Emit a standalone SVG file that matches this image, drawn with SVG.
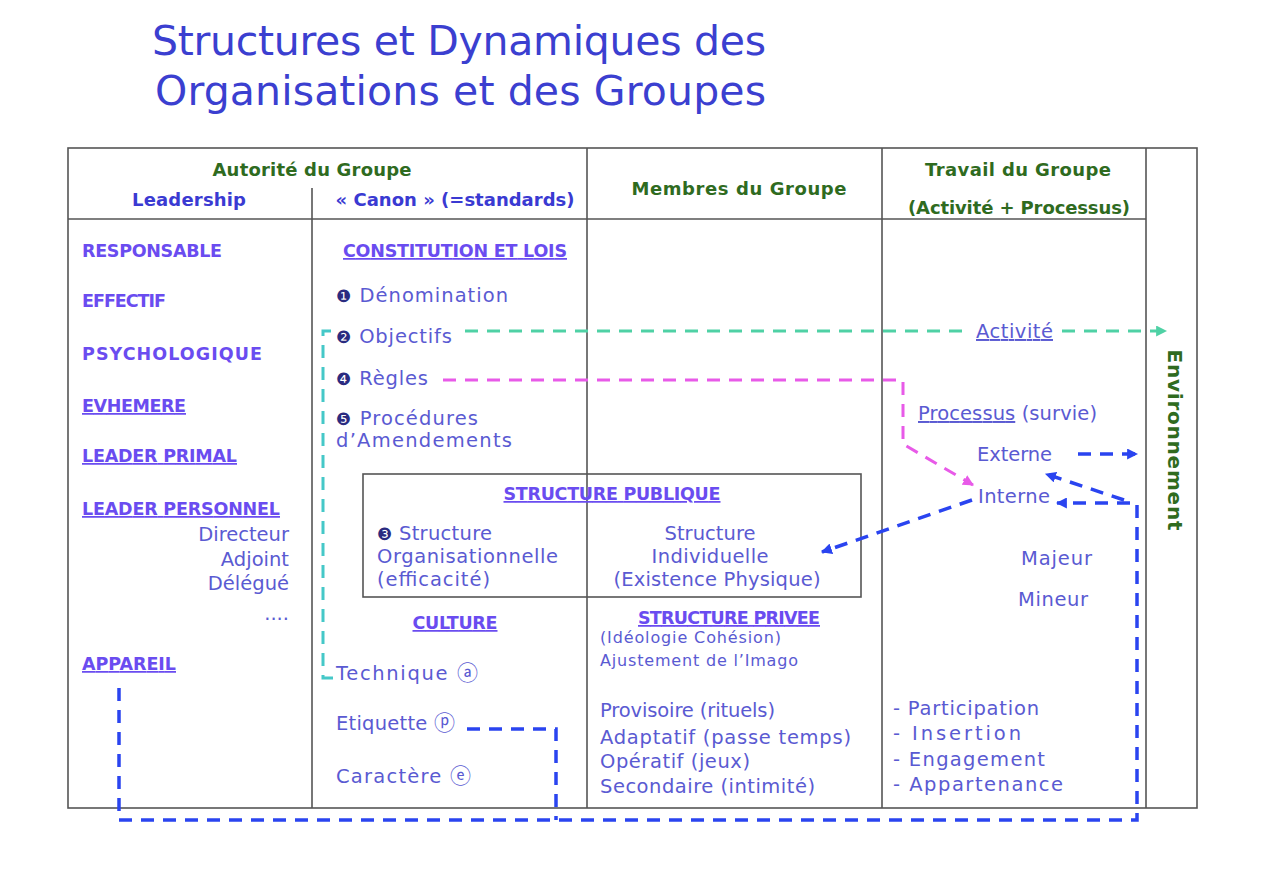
<svg xmlns="http://www.w3.org/2000/svg" width="1270" height="886" viewBox="0 0 1270 886">
<style>
text{font-family:"DejaVu Sans","Noto Sans CJK JP",sans-serif}
.title{font-size:41px;fill:#3b3fd0}
.hg{font-size:18px;font-weight:bold;fill:#2f6b1f}
.hb{font-size:18px;font-weight:bold;fill:#3a3ad2}
.lab{font-size:17.5px;font-weight:bold;fill:#6a4cf0}
.u{text-decoration:underline}
.body{font-size:19.5px;fill:#5a5ad2}
.small{font-size:16px;fill:#5a5ad2}
.num{font-size:17px;fill:#2b2b80}
.circ{font-size:21px}
.grid{stroke:#555;stroke-width:1.6;fill:none}
.teal{stroke:#4fd1a5;stroke-width:3;fill:none;stroke-dasharray:13 9}
.cyan{stroke:#45c8c8;stroke-width:3;fill:none;stroke-dasharray:13 9}
.mag{stroke:#e85ae8;stroke-width:3;fill:none;stroke-dasharray:13 9}
.blue{stroke:#2a44f0;stroke-width:3.5;fill:none;stroke-dasharray:13 9}
</style>
<defs>
<marker id="aTeal" viewBox="0 0 10 10" refX="9" refY="5" markerWidth="11" markerHeight="11" markerUnits="userSpaceOnUse" orient="auto"><path d="M0,0 L10,5 L0,10 z" fill="#4fd1a5"/></marker>
<marker id="aMag" viewBox="0 0 10 10" refX="9" refY="5" markerWidth="11" markerHeight="11" markerUnits="userSpaceOnUse" orient="auto"><path d="M0,0 L10,5 L0,10 z" fill="#e85ae8"/></marker>
<marker id="aBlue" viewBox="0 0 10 10" refX="9" refY="5" markerWidth="11" markerHeight="11" markerUnits="userSpaceOnUse" orient="auto"><path d="M0,0 L10,5 L0,10 z" fill="#2a44f0"/></marker>
</defs>
<rect width="1270" height="886" fill="#fff"/>

<g id="title">
<text class="title" x="152" y="55" textLength="614">Structures et Dynamiques des</text>
<text class="title" x="155" y="105" textLength="611">Organisations et des Groupes</text>
</g>

<g id="table">
<rect class="grid" x="68" y="148" width="1129" height="660"/>
<line class="grid" x1="68" y1="219" x2="1146" y2="219"/>
<line class="grid" x1="312" y1="188" x2="312" y2="808"/>
<line class="grid" x1="587" y1="148" x2="587" y2="808"/>
<line class="grid" x1="882" y1="148" x2="882" y2="808"/>
<line class="grid" x1="1146" y1="148" x2="1146" y2="808"/>
</g>

<g id="headers">
<text class="hg" x="312" y="176" text-anchor="middle" textLength="199">Autorité du Groupe</text>
<text class="hb" x="189" y="206" text-anchor="middle" textLength="114">Leadership</text>
<text class="hb" x="455" y="206" text-anchor="middle" textLength="239">« Canon » (=standards)</text>
<text class="hg" x="739" y="195" text-anchor="middle" textLength="215">Membres du Groupe</text>
<text class="hg" x="1018" y="176" text-anchor="middle" textLength="186">Travail du Groupe</text>
<text class="hg" x="1019" y="214" text-anchor="middle" textLength="222">(Activité + Processus)</text>
</g>

<g id="environnement">
<text class="hg" style="font-size:20px" transform="translate(1168,440) rotate(90)" x="0" y="0" text-anchor="middle" textLength="181">Environnement</text>
</g>

<g id="leadership">
<text class="lab" x="82" y="257" textLength="140">RESPONSABLE</text>
<text class="lab" x="82" y="307" textLength="84">EFFECTIF</text>
<text class="lab" x="82" y="360" textLength="180">PSYCHOLOGIQUE</text>
<text class="lab u" x="82" y="412" textLength="104">EVHEMERE</text>
<text class="lab u" x="82" y="462" textLength="155">LEADER PRIMAL</text>
<text class="lab u" x="82" y="515" textLength="198">LEADER PERSONNEL</text>
<text class="body" x="289" y="541" text-anchor="end">Directeur</text>
<text class="body" x="289" y="566" text-anchor="end">Adjoint</text>
<text class="body" x="289" y="590" text-anchor="end">Délégué</text>
<text class="body" x="289" y="620" text-anchor="end">....</text>
<text class="lab u" x="82" y="670" textLength="94">APPAREIL</text>
</g>

<g id="constitution">
<text class="lab u" x="455" y="257" text-anchor="middle" textLength="224">CONSTITUTION ET LOIS</text>
<text class="body" x="336" y="302" textLength="172"><tspan class="num">❶</tspan> Dénomination</text>
<text class="body" x="336" y="343" textLength="116"><tspan class="num">❷</tspan> Objectifs</text>
<text class="body" x="336" y="385" textLength="92"><tspan class="num">❹</tspan> Règles</text>
<text class="body" x="336" y="425" textLength="142"><tspan class="num">❺</tspan> Procédures</text>
<text class="body" x="336" y="447" textLength="176">d’Amendements</text>
</g>

<g id="structure-publique">
<rect class="grid" x="363" y="474" width="498" height="123"/>
<text class="lab u" x="612" y="500" text-anchor="middle" textLength="217">STRUCTURE  PUBLIQUE</text>
<text class="body" x="377" y="540" textLength="115"><tspan class="num">❸</tspan> Structure</text>
<text class="body" x="377" y="563" textLength="181">Organisationnelle</text>
<text class="body" x="377" y="586" textLength="113">(efficacité)</text>
<text class="body" x="710" y="540" text-anchor="middle" textLength="91">Structure</text>
<text class="body" x="710" y="563" text-anchor="middle" textLength="117">Individuelle</text>
<text class="body" x="717" y="586" text-anchor="middle" textLength="207">(Existence Physique)</text>
</g>

<g id="culture">
<text class="lab u" x="455" y="629" text-anchor="middle" textLength="85">CULTURE</text>
<text class="body" x="336" y="680" textLength="142">Technique  <tspan class="circ">ⓐ</tspan></text>
<text class="body" x="336" y="730" textLength="119">Etiquette <tspan class="circ">ⓟ</tspan></text>
<text class="body" x="336" y="783" textLength="135">Caractère <tspan class="circ">ⓔ</tspan></text>
</g>

<g id="structure-privee">
<text class="lab u" x="729" y="624" text-anchor="middle" textLength="182">STRUCTURE PRIVEE</text>
<text class="small" x="600" y="643" textLength="181">(Idéologie Cohésion)</text>
<text class="small" x="600" y="666" textLength="198">Ajustement de l’Imago</text>
<text class="body" x="600" y="717" textLength="175">Provisoire (rituels)</text>
<text class="body" x="600" y="744" textLength="251">Adaptatif (passe temps)</text>
<text class="body" x="600" y="768" textLength="150">Opératif (jeux)</text>
<text class="body" x="600" y="793" textLength="215">Secondaire (intimité)</text>
</g>

<g id="travail">
<text class="body u" x="976" y="338" textLength="77">Activité</text>
<text class="body" x="918" y="420" textLength="179"><tspan class="u">Processus</tspan> (survie)</text>
<text class="body" x="977" y="461" textLength="75">Externe</text>
<text class="body" x="978" y="503" textLength="72">Interne</text>
<text class="body" x="1021" y="565" textLength="71">Majeur</text>
<text class="body" x="1018" y="606" textLength="70">Mineur</text>
<text class="body" x="893" y="715" textLength="146">- Participation</text>
<text class="body" x="893" y="740" textLength="128">- Insertion</text>
<text class="body" x="893" y="766" textLength="152">- Engagement</text>
<text class="body" x="893" y="791" textLength="170">- Appartenance</text>
</g>

<g id="connectors">
<path class="teal" d="M465 331 H968"/>
<path class="teal" d="M1062 331 H1166" marker-end="url(#aTeal)"/>
<path class="cyan" d="M331 331 H323 V678 H333"/>
<path class="mag" d="M443 380 H903 V444 L973 485" marker-end="url(#aMag)"/>
<path class="blue" d="M1078 454 H1137" marker-end="url(#aBlue)"/>
<path class="blue" d="M972 500 L822 552" marker-end="url(#aBlue)"/>
<path class="blue" d="M119 688 V820 H1137 V503 H1057" marker-end="url(#aBlue)"/>
<path class="blue" d="M1124 500 L1046 474" marker-end="url(#aBlue)"/>
<path class="blue" d="M467 729 H556 V820"/>
</g>
</svg>
